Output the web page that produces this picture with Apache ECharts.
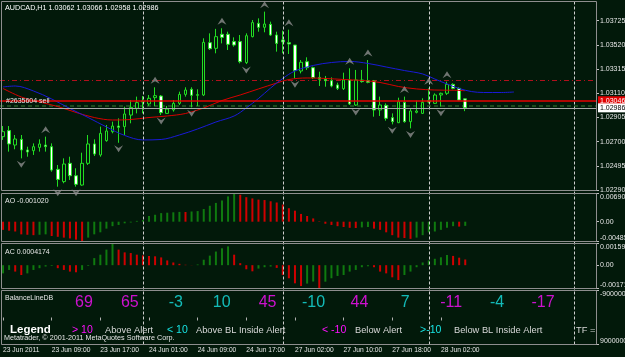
<!DOCTYPE html>
<html><head><meta charset="utf-8">
<script src="https://cdn.jsdelivr.net/npm/echarts@6/dist/echarts.min.js"></script>
<style>html,body{margin:0;padding:0;background:#02190a;}#c{width:625px;height:357px;}</style>
</head><body><div id="c"></div>
<script>
// ---------------- DATA ----------------
const symbolName = 'AUDCAD,H1';
const sessions = [['23 Jun',1,23],['24 Jun',0,22],['27 Jun',0,23],['28 Jun',0,23],['29 Jun',0,3]];
const timeTickLabels = ['23 Jun 2011','23 Jun 09:00','23 Jun 17:00','24 Jun 01:00','24 Jun 09:00','24 Jun 17:00','27 Jun 02:00','27 Jun 10:00','27 Jun 18:00','28 Jun 02:00'];
const priceTicks = [1.02290,1.02495,1.02700,1.02905,1.03110,1.03315,1.03520,1.03725];
// [open, close, low, high]
const candles = [
[1.02742,1.02784,1.02714,1.02832],[1.02793,1.02680,1.02615,1.02832],[1.02671,1.02722,1.02635,1.02756],[1.02719,1.02629,1.02558,1.02756],
[1.02629,1.02612,1.02572,1.02657],[1.02623,1.02657,1.02587,1.02685],[1.02651,1.02680,1.02615,1.02719],[1.02671,1.02657,1.02615,1.02742],
[1.02657,1.02459,1.02445,1.02685],[1.02465,1.02380,1.02318,1.02502],[1.02361,1.02510,1.02347,1.02558],[1.02516,1.02411,1.02375,1.02572],
[1.02411,1.02338,1.02318,1.02474],[1.02332,1.02516,1.02326,1.02606],[1.02516,1.02680,1.02502,1.02756],[1.02680,1.02595,1.02578,1.02719],
[1.02587,1.02770,1.02572,1.02827],[1.02708,1.02790,1.02699,1.02841],[1.02784,1.02832,1.02770,1.02869],[1.02832,1.02821,1.02690,1.02897],
[1.02827,1.02934,1.02756,1.02996],[1.02925,1.02990,1.02855,1.03052],[1.02982,1.03030,1.02939,1.03081],[1.03035,1.03044,1.02939,1.03086],
[1.03019,1.03067,1.03002,1.03095],[1.03072,1.03089,1.03002,1.03160],[1.03086,1.02945,1.02925,1.03095],[1.02939,1.02976,1.02934,1.03002],
[1.02968,1.03024,1.02954,1.03052],[1.03024,1.03100,1.03010,1.03123],[1.03100,1.03137,1.03081,1.03160],[1.03143,1.03092,1.02990,1.03160],
[1.03092,1.03098,1.03002,1.03143],[1.03095,1.03541,1.03086,1.03575],[1.03538,1.03487,1.03476,1.03617],[1.03490,1.03589,1.03448,1.03655],
[1.03609,1.03583,1.03532,1.03660],[1.03609,1.03524,1.03476,1.03631],[1.03547,1.03518,1.03504,1.03583],[1.03547,1.03377,1.03363,1.03603],
[1.03369,1.03597,1.03357,1.03617],[1.03589,1.03708,1.03583,1.03730],[1.03702,1.03668,1.03631,1.03744],[1.03668,1.03696,1.03626,1.03801],
[1.03693,1.03603,1.03595,1.03716],[1.03603,1.03532,1.03462,1.03631],[1.03561,1.03544,1.03448,1.03640],[1.03538,1.03527,1.03442,1.03648],
[1.03518,1.03301,1.03236,1.03518],[1.03298,1.03372,1.03278,1.03391],[1.03377,1.03326,1.03307,1.03414],[1.03326,1.03242,1.03230,1.03335],
[1.03244,1.03228,1.03171,1.03292],[1.03228,1.03216,1.03165,1.03256],[1.03216,1.03171,1.03160,1.03244],[1.03180,1.03151,1.03137,1.03199],
[1.03148,1.03222,1.03137,1.03284],[1.03222,1.03019,1.03010,1.03321],[1.03010,1.03222,1.03002,1.03307],[1.03222,1.03208,1.03199,1.03307],
[1.03216,1.03202,1.03194,1.03391],[1.03213,1.02968,1.02911,1.03222],[1.02968,1.03010,1.02917,1.03081],[1.03007,1.02897,1.02877,1.03024],
[1.02903,1.02869,1.02846,1.02939],[1.02860,1.03038,1.02857,1.03072],[1.03033,1.02869,1.02860,1.03081],[1.02869,1.02959,1.02812,1.02982],
[1.02948,1.02959,1.02939,1.03047],[1.02939,1.03033,1.02934,1.03067],[1.03047,1.03035,1.03024,1.03151],[1.03024,1.03095,1.03019,1.03109],
[1.03095,1.03109,1.02996,1.03115],[1.03109,1.03185,1.03095,1.03208],[1.03185,1.03151,1.03143,1.03194],[1.03151,1.03052,1.03047,1.03160],
[1.03062,1.02986,1.02958,1.03066]
];
// moving averages, read at sample bars: [barIndex, price]
const redMA = [[0,1.03150],[3,1.03078],[6,1.03036],[9,1.02997],[12,1.02947],[15,1.02904],[18,1.02883],[21,1.02887],[24,1.02904],[27,1.02917],[30,1.02938],[33,1.02985],[36,1.03048],[39,1.03095],[42,1.03146],[45,1.03196],[47,1.03226],[50,1.03239],[53,1.03235],[56,1.03226],[59,1.03218],[62,1.03201],[65,1.03167],[68,1.03146],[71,1.03137],[74,1.03135],[76,1.03131]];
const blueMA = [[0,1.03163],[2,1.03171],[5,1.03129],[8,1.03061],[11,1.02980],[14,1.02904],[17,1.02824],[20,1.02752],[23,1.02714],[26,1.02718],[29,1.02756],[32,1.02807],[35,1.02866],[38,1.02917],[40,1.02985],[42,1.03065],[44,1.03154],[46,1.03235],[48,1.03298],[51,1.03345],[54,1.03370],[57,1.03379],[60,1.03362],[63,1.03332],[66,1.03302],[69,1.03273],[71,1.03230],[73,1.03188],[75,1.03150],[77,1.03124],[79,1.03116],[82,1.03116],[84,1.03120]];
const fractalUpBars = [7,25,36,43,47,57,60,66,70,73];
const fractalDownBars = [3,9,12,19,26,31,40,48,58,64,67,72];
const bidPrice = 1.02986;
const orderPrice = 1.03046;
const orderText = '#2635604 sell';
const stopLevel = 1.03216;
const dimLevel = 1.03007;
const aoValues = [-0.0020,-0.0022,-0.0024,-0.0031,-0.0032,-0.0033,-0.0032,-0.0031,-0.0035,-0.0037,-0.0039,-0.0041,-0.0044,-0.00485,-0.0039,-0.0031,-0.0026,-0.0017,-0.0011,-0.0008,-0.0004,-0.0002,0.0002,0.0004,0.0014,0.0017,0.0021,0.0022,0.0023,0.0024,0.00238,0.0025,0.0026,0.0031,0.0039,0.0046,0.0052,0.0062,0.006903,0.0066,0.0060,0.0057,0.0054,0.0053,0.0050,0.0047,0.0042,0.0033,0.0027,0.0019,0.0014,0.0008,0.0001,-0.0005,-0.0008,-0.0011,-0.0013,-0.0015,-0.00155,-0.0014,-0.0013,-0.0017,-0.0020,-0.0026,-0.0033,-0.0039,-0.0040,-0.0042,-0.0039,-0.0033,-0.0026,-0.0024,-0.0020,-0.0015,-0.0011,-0.0012,-0.00102];
const acValues = [-0.0006,-0.00035,-0.00047,-0.00072,-0.0006,-0.00035,-0.00022,-0.0001,-0.00005,-0.00022,-0.00035,-0.00047,-0.00052,-0.00035,-0.00005,0.00052,0.00077,0.00114,0.00159,0.00114,0.00094,0.00089,0.00077,0.00072,0.00068,0.00065,0.00057,0.00035,0.0002,0.0001,0.00003,0.00001,0.00005,0.0004,0.0007,0.001,0.00124,0.00138,0.00077,0.00015,-0.0003,-0.00045,-0.00025,-0.00015,-0.0001,-0.0002,-0.00072,-0.00096,-0.00133,-0.00153,-0.00135,-0.0012,-0.00171,-0.00121,-0.00096,-0.00079,-0.00072,-0.00047,-0.00035,-0.00015,-0.00008,-0.00015,-0.00047,-0.0006,-0.00089,-0.00109,-0.00072,-0.00047,-0.00015,0.0002,0.00035,0.00047,0.00058,0.00075,0.00068,0.00055,0.0004174];
const aoTicks = [-0.00485, 0, 0.006903];
const aoTickText = ['-0.00485','0.00','0.006903'];
const acTicks = [-0.00171, 0, 0.00159];
const acTickText = ['-0.00171','0.00','0.00159'];
const balanceTicks = [-9000000, 9000000];
const balanceValues = [69,65,-3,10,45,-10,44,7,-11,-4,-17];
const legendItems = [
  {t:'> 10', kind:'alert'},{t:'Above Alert', kind:'text'},{t:'< 10', kind:'inside'},{t:'Above BL Inside Alert', kind:'text'},
  {t:'< -10', kind:'alert'},{t:'Below Alert', kind:'text'},{t:'>-10', kind:'inside'},{t:'Below BL Inside Alert', kind:'text'},{t:'TF =', kind:'text'}
];

// ---------------- STYLE / LAYOUT ----------------
const BG = '#02190a', FRAME = '#8e8e8e', CANDLE = '#22dd22', TXT = '#e6e6e6';
const MAGENTA = '#ff10ff', CYAN = '#18e4e4';
const AO_UP = '#0f7a0f', AO_DN = '#d00000';
const FONT = '"Liberation Sans", Arial, sans-serif';
const legendX = [72,105,167,196,322,355,420,454,576];
const numbersRowY = 0.78;

const categories = [];
sessions.forEach(([d,h0,h1]) => { for (let h=h0; h<=h1; h++) categories.push(d+' '+String(h).padStart(2,'0')+':00'); });
const separators = categories.map((c,i)=> c.endsWith(' 00:00') ? i : -1).filter(i=>i>=0);
const lastBar = candles.length - 1;
const last = candles[lastBar];

function histData(vals, firstUp){
  return vals.map((v,i)=>({value:v, itemStyle:{color: (i===0 ? firstUp : v > vals[i-1]) ? AO_UP : AO_DN}}));
}
function nearestText(v, ticks, texts){ let b=0; ticks.forEach((t,i)=>{ if (Math.abs(t-v) < Math.abs(ticks[b]-v)) b=i; }); return texts[b]; }

const chart = echarts.init(document.getElementById('c'), null, {renderer:'canvas', width:625, height:357});

const gridBase = {left:0, width:596, containLabel:false, outerBoundsMode:'none', show:false};
const grids = [
  Object.assign({top:2.5, height:187.5}, gridBase),
  Object.assign({top:193.5, height:48}, gridBase),
  Object.assign({top:243.5, height:45}, gridBase),
  Object.assign({top:290.5, height:54}, gridBase),
  Object.assign({top:2, height:342.5}, gridBase),
  {left:61, width:505, top:290.5, height:54, containLabel:false, outerBoundsMode:'none', show:false}
];
const hiddenCat = (g) => ({type:'category', gridIndex:g, data:categories, boundaryGap:true, show:false});
const xAxes = [hiddenCat(0), hiddenCat(1), hiddenCat(2),
  {type:'category', gridIndex:3, data:categories, boundaryGap:true,
   axisLine:{show:false}, splitLine:{show:false},
   axisTick:{show:true, alignWithLabel:true, length:3, interval:(i)=> i%8===0 && i/8 < timeTickLabels.length, lineStyle:{color:'#b0b0b0'}},
   axisLabel:{interval:(i)=> i%8===0 && i/8 < timeTickLabels.length, formatter:(v,i)=> timeTickLabels[i/8] || '', align:'left', margin:2, color:TXT, fontSize:6.7, fontFamily:FONT}},
  hiddenCat(4),
  {type:'category', gridIndex:5, data:balanceValues.map((v,i)=>String(i)), boundaryGap:true, show:false}
];
const sideAxis = (g, min, max, ticks, fmt, extra, vMin, vMax) => Object.assign({
  type:'value', gridIndex:g, position:'right', min:min, max:max, scale:true,
  axisLine:{show:false}, splitLine:{show:false},
  axisTick:{show:true, customValues:ticks, length:3, lineStyle:{color:'#c0c0c0'}},
  axisLabel:{customValues:ticks, formatter:fmt, margin:4, color:TXT, fontSize:7, fontFamily:FONT,
    verticalAlignMinLabel:vMin, verticalAlignMaxLabel:vMax}
}, extra||{});
const yAxes = [
  sideAxis(0, priceTicks[0], 1.038783, priceTicks, v=> v.toFixed(5), null, 'middle', 'middle'),
  sideAxis(1, aoTicks[0], aoTicks[2], aoTicks, v=> nearestText(v, aoTicks, aoTickText), null, 'bottom', 'top'),
  sideAxis(2, acTicks[0], acTicks[2], acTicks, v=> nearestText(v, acTicks, acTickText), null, 'bottom', 'top'),
  sideAxis(3, balanceTicks[0], balanceTicks[1], balanceTicks, v=> String(Math.round(v)), {inverse:true}, 'top', 'bottom'),
  {type:'value', gridIndex:4, min:0, max:1, show:false},
  {type:'value', gridIndex:5, min:0, max:1, show:false}
];

const upPath = 'path://M5,0 L10,8 L5,5 L0,8 Z';
const dnPath = 'path://M0,0 L5,3 L10,0 L5,8 Z';

// one horizontal level per series
function level(price, lineStyle, label, z){
  return {type:'line', xAxisIndex:0, yAxisIndex:0, data:[], z:z,
    markLine:{silent:true, symbol:['none','none'], animation:false, z:z, precision:6,
      lineStyle:lineStyle, label:label || {show:false}, data:[{yAxis:price}]}};
}
const boxLabel = (txtColor, bg) => ({show:true, position:'end', distance:2, formatter:(p)=> Number(p.value).toFixed(5),
  color:txtColor, backgroundColor:bg, padding:[1,3,1,2], fontSize:7, fontFamily:FONT});

const series = [
  {type:'candlestick', xAxisIndex:0, yAxisIndex:0, data:candles, barWidth:3, z:3,
   itemStyle:{color:BG, color0:'#ffffff', borderColor:CANDLE, borderColor0:CANDLE, borderColorDoji:CANDLE, borderWidth:1}},
  level(dimLevel, {color:'#1d4a1d', width:2, type:[4,3]}, null, 2),
  level(stopLevel, {color:'#b0101c', width:1, type:[5,3,1,3]}, null, 2),
  level(orderPrice, {color:'#e80000', width:1.5, type:'solid'}, boxLabel('#ffffff','#e00000'), 6),
  level(orderPrice, {color:'rgba(0,0,0,0)', width:1},
        {show:true, position:'insideStartTop', distance:[6,-4], formatter:orderText, color:TXT, fontSize:7, fontFamily:FONT}, 7),
  level(bidPrice, {color:'#a8a8a8', width:1, type:'solid'}, boxLabel('#000000','#ffffff'), 8),
  {type:'line', xAxisIndex:0, yAxisIndex:0, data:redMA, smooth:0.35, symbol:'none', lineStyle:{color:'#d80000', width:1}, z:4},
  {type:'line', xAxisIndex:0, yAxisIndex:0, data:blueMA, smooth:0.35, symbol:'none', lineStyle:{color:'#1a1ad8', width:1}, z:4},
  {type:'scatter', xAxisIndex:0, yAxisIndex:0, data:fractalUpBars.map(i=>[i, candles[i][3]]), symbol:upPath, symbolSize:[9,7], symbolOffset:[0,-7], itemStyle:{color:'#8c8c8c'}, z:5},
  {type:'scatter', xAxisIndex:0, yAxisIndex:0, data:fractalDownBars.map(i=>[i, candles[i][2]]), symbol:dnPath, symbolSize:[9,7], symbolOffset:[0,6], itemStyle:{color:'#8c8c8c'}, z:5},
  {type:'bar', xAxisIndex:1, yAxisIndex:1, data:histData(aoValues,false), barWidth:2},
  {type:'bar', xAxisIndex:2, yAxisIndex:2, data:histData(acValues,true), barWidth:2},
  {type:'line', xAxisIndex:4, yAxisIndex:4, data:[], z:10,
   markLine:{silent:true, symbol:['none','none'], animation:false, label:{show:false},
     lineStyle:{color:'#cfcfcf', width:1, type:[3,2]}, data:separators.map(i=>({xAxis:i}))}},
  {type:'scatter', xAxisIndex:5, yAxisIndex:5, symbolSize:1, itemStyle:{color:'rgba(0,0,0,0)'},
   data:balanceValues.map((v,i)=>({value:[i, numbersRowY], label:{color: (v>10||v<-10) ? MAGENTA : CYAN}})),
   label:{show:true, position:'inside', formatter:(p)=> String(balanceValues[p.dataIndex]), fontSize:16, fontFamily:FONT}}
];

const txt = (x,y,text,font,fill) => ({type:'text', x:x, y:y, silent:true, z:50, style:{text:text, font:font, fill:fill, align:'left', verticalAlign:'middle'}});
const frame = (x1,y1,x2,y2) => ({type:'rect', silent:true, z:40, shape:{x:x1, y:y1, width:x2-x1, height:y2-y1}, style:{fill:null, stroke:FRAME, lineWidth:1}});
const graphics = [
  frame(1.5,1.5,596.5,190.5), frame(1.5,193.5,596.5,241.5), frame(1.5,243.5,596.5,288.5), frame(1.5,290.5,596.5,344.5),
  txt(5,7.7, symbolName+' '+[last[0],last[3],last[2],last[1]].map(v=>v.toFixed(5)).join(' '), '7.2px '+FONT, '#ffffff'),
  txt(5,200.7, 'AO '+aoValues[lastBar].toFixed(6), '7px '+FONT, TXT),
  txt(5,251.7, 'AC '+acValues[lastBar].toFixed(7), '7px '+FONT, TXT),
  txt(5,298, 'BalanceLineDB', '7px '+FONT, TXT),
  txt(10,330, 'Legend', 'bold 11.5px '+FONT, '#ffffff'),
  txt(4,337.7, 'Metatrader, \u00a9 2001-2011 MetaQuotes Software Corp.', '7.2px '+FONT, TXT)
];
legendItems.forEach((it,i)=>{
  const col = it.kind==='alert' ? MAGENTA : it.kind==='inside' ? CYAN : '#d8d8d8';
  const f = it.kind==='text' ? '9.3px ' : '10.5px ';
  graphics.push(txt(legendX[i], 330, it.t, f+FONT, col));
});

chart.setOption({
  animation:false, backgroundColor:BG,
  grid:grids, xAxis:xAxes, yAxis:yAxes, series:series, graphic:graphics
});
</script></body></html>
